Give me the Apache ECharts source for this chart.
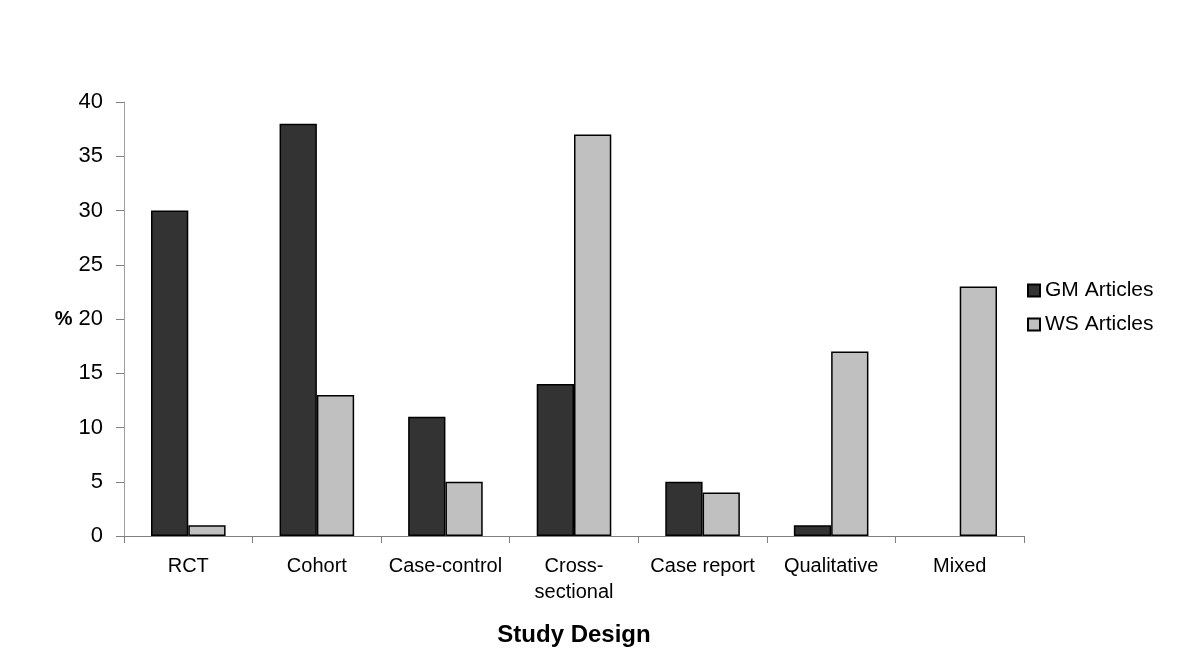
<!DOCTYPE html>
<html>
<head>
<meta charset="utf-8">
<script src="https://cdn.jsdelivr.net/npm/echarts@6/dist/echarts.min.js"></script>
<style>html,body{margin:0;padding:0;background:#fff}#c{width:1200px;height:671px}</style>
</head>
<body>
<div id="c"></div>
<script>
const categories = ['RCT', 'Cohort', 'Case-control', 'Cross-\nsectional', 'Case report', 'Qualitative', 'Mixed'];
const gmArticles = [30, 38, 11, 14, 5, 1, null];
const wsArticles = [1, 13, 5, 37, 4, 17, 23];
const seriesNames = ['GM Articles', 'WS Articles'];

const FONT = '"Liberation Sans", Arial, Helvetica, sans-serif';
const chart = echarts.init(document.getElementById('c'), null, {renderer: 'canvas'});
chart.setOption({
  animation: false,
  backgroundColor: '#ffffff',
  grid: {left: 124, right: 176, top: 102, bottom: 135, containLabel: false},
  legend: {
    orient: 'vertical',
    left: 1022, top: 275,
    itemWidth: 12, itemHeight: 12, itemGap: 13,
    icon: 'rect',
    textStyle: {fontFamily: FONT, fontSize: 21, color: '#000'},
    data: seriesNames
  },
  xAxis: {
    type: 'category',
    data: categories,
    name: 'Study Design',
    nameLocation: 'middle',
    nameGap: 87,
    nameTextStyle: {fontFamily: FONT, fontSize: 24, fontWeight: 'bold', color: '#000'},
    axisLine: {lineStyle: {color: '#808080', width: 1}},
    axisTick: {show: true, alignWithLabel: false, length: 7, inside: false, lineStyle: {color: '#808080'}},
    axisLabel: {fontFamily: FONT, fontSize: 20, color: '#000', margin: 17, lineHeight: 26, interval: 0}
  },
  yAxis: {
    type: 'value',
    min: 0, max: 40, interval: 5,
    name: '%',
    nameLocation: 'middle',
    nameRotate: 0,
    nameGap: 50,
    nameTextStyle: {fontFamily: FONT, fontSize: 20, fontWeight: 'bold', color: '#000'},
    axisLine: {show: true, lineStyle: {color: '#a0a0a0', width: 1}},
    axisTick: {show: true, length: 8, lineStyle: {color: '#808080'}},
    splitLine: {show: false},
    axisLabel: {fontFamily: FONT, fontSize: 22, color: '#000', margin: 21}
  },
  series: [
    {
      name: seriesNames[0], type: 'bar', data: gmArticles,
      barGap: '0%', barCategoryGap: '42%',
      itemStyle: {color: '#333333', borderColor: '#000', borderWidth: 1.5}
    },
    {
      name: seriesNames[1], type: 'bar', data: wsArticles,
      barGap: '0%', barCategoryGap: '42%',
      itemStyle: {color: '#c0c0c0', borderColor: '#000', borderWidth: 1.5}
    }
  ]
});
</script>
</body>
</html>
